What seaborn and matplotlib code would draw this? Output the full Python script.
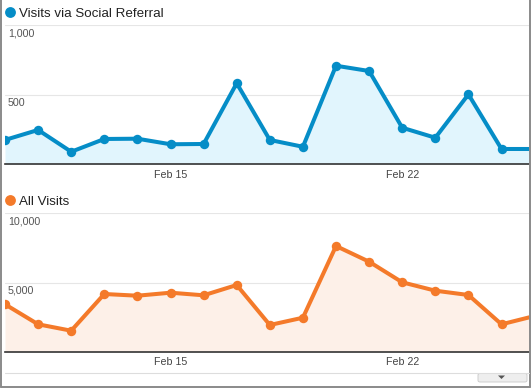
import matplotlib
matplotlib.use("Agg")
import matplotlib.pyplot as plt
import matplotlib.dates as mdates
import matplotlib.transforms as mtransforms
from matplotlib.lines import Line2D
from matplotlib.patches import FancyBboxPatch, Polygon
import seaborn as sns
import pandas as pd

# ---- data ----
dates = pd.date_range("2013-02-10", "2013-02-26", freq="D")
social_visits = [173, 245, 88, 180, 182, 142, 144, 581, 173, 124, 707, 669, 261, 189, 501, 108, 108]
all_visits = [3425, 1980, 1517, 4169, 4046, 4263, 4075, 4819, 1929, 2457, 7637, 6503, 5014, 4408, 4097, 1980, 2580]
social_title = "Visits via Social Referral"
all_title = "All Visits"
social_yticks = [500, 1000]
social_ylabels = ["500", "1,000"]
all_yticks = [5000, 10000]
all_ylabels = ["5,000", "10,000"]
xtick_dates = ["2013-02-15", "2013-02-22"]

BLUE = "#058DC7"
BLUE_FILL = "#E1F5FD"
ORANGE = "#F47A2A"
ORANGE_FILL = "#FDF0E8"

sns.set_theme(style="white")
plt.rcParams["font.family"] = ["Liberation Sans", "DejaVu Sans"]

W, H = 531, 388
fig = plt.figure(figsize=(W / 100, H / 100), dpi=100)

def px_axes(x0, y_top, x1, y_bot):
    return fig.add_axes([x0 / W, 1 - y_bot / H, (x1 - x0) / W, (y_bot - y_top) / H])

start = dates[0]
xmax = start + pd.Timedelta(days=15.83)

def draw_panel(ax, vals, color, fill, yticks, ylabels, ymax):
    df = pd.DataFrame({"date": dates, "v": vals})
    ax.fill_between(df["date"], df["v"], 0, color=fill, lw=0, zorder=1)
    sns.lineplot(data=df, x="date", y="v", ax=ax, color=color, lw=2.9,
                 marker="o", markersize=6.8, markeredgewidth=0, zorder=3)
    ax.set_xlim(start, xmax)
    ax.set_ylim(0, ymax)
    ax.set_xlabel("")
    ax.set_ylabel("")
    ax.set_yticks(yticks)
    ax.set_yticklabels([])
    ax.tick_params(axis="y", length=0)
    ax.grid(axis="y", color="#E6E6E6", lw=0.8)
    ax.grid(axis="x", visible=False)
    for s in ["top", "left", "right"]:
        ax.spines[s].set_visible(False)
    ax.spines["bottom"].set_color("#333333")
    ax.spines["bottom"].set_linewidth(1.2)
    ax.set_xticks(pd.to_datetime(xtick_dates))
    ax.xaxis.set_major_formatter(mdates.DateFormatter("%b %d"))
    ax.tick_params(axis="x", length=0, pad=4, labelsize=7.7, labelcolor="#444444")
    off = mtransforms.offset_copy(ax.get_yaxis_transform(), fig=fig, x=3, y=-3, units="dots")
    for t, lab in zip(yticks, ylabels):
        ax.text(0, t, lab, transform=off, ha="left", va="top", fontsize=7.7, color="#555555")

ax1 = px_axes(5, 25, 529, 164)
draw_panel(ax1, social_visits, BLUE, BLUE_FILL, social_yticks, social_ylabels, 1000)
ax2 = px_axes(5, 213.3, 529, 351.7)
draw_panel(ax2, all_visits, ORANGE, ORANGE_FILL, all_yticks, all_ylabels, 10000)

# titles with colored dots
def title(y_dot, y_base, text, color):
    fig.add_artist(Line2D([10 / W], [1 - y_dot / H], marker="o", markersize=7.8,
                          markerfacecolor=color, markeredgewidth=0, linestyle="none"))
    fig.text(19 / W, 1 - y_base / H, text, color="#222222", fontsize=9.6, ha="left", va="baseline")

title(12, 17.3, social_title, BLUE)
title(200, 205, all_title, ORANGE)

# frame and footer
def fline(x0, y0, x1, y1, c, lw):
    fig.add_artist(Line2D([x0 / W, x1 / W], [1 - y0 / H, 1 - y1 / H], color=c, lw=lw))

fline(1, 0, 1, 386.5, "#8A8A8A", 1.4)
fline(529.5, 0, 529.5, 386.5, "#8A8A8A", 1.4)
fline(1, 386.5, 529.5, 386.5, "#8A8A8A", 1.4)
fline(5, 373.3, 529, 373.3, "#DDDDDD", 0.8)
btn = FancyBboxPatch((478 / W, 1 - 382 / H), 49 / W, 8.5 / H,
                     boxstyle="round,pad=0,rounding_size=0.004",
                     transform=fig.transFigure, facecolor="#EEEEEE", edgecolor="#C8C8C8", lw=0.6)
fig.add_artist(btn)
tri = Polygon([[498 / W, 1 - 375.5 / H], [505 / W, 1 - 375.5 / H], [501.5 / W, 1 - 379 / H]],
              closed=True, transform=fig.transFigure, facecolor="#555555", edgecolor="none")
fig.add_artist(tri)

fig.savefig("out.png", dpi=100, facecolor="white")
